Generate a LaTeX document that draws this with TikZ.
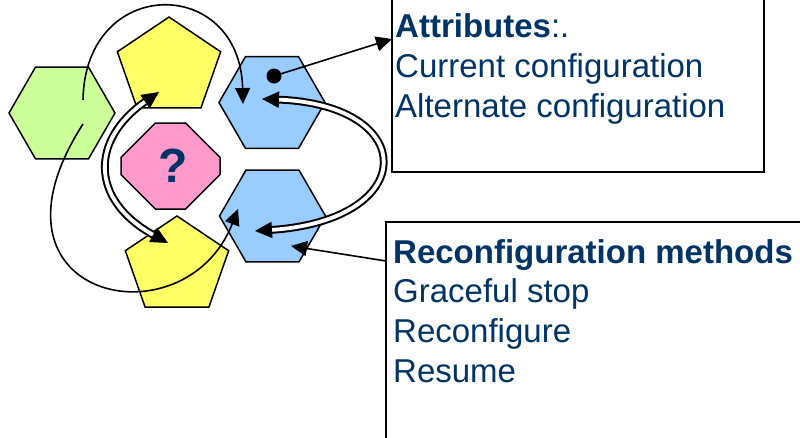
\documentclass[tikz,border=0pt]{standalone}
\usepackage{fontspec}
\setmainfont{Liberation Sans}
\usetikzlibrary{arrows.meta,shapes.geometric,shapes.misc}

\definecolor{navy}{RGB}{0,51,102}
\definecolor{leaf}{RGB}{204,255,153}
\definecolor{lemon}{RGB}{255,255,102}
\definecolor{sky}{RGB}{153,204,255}
\definecolor{rose}{RGB}{255,153,204}

\tikzset{
  shapeline/.style={draw=black, line width=1.5pt, inner sep=0pt},
  hexa/.style={shapeline, regular polygon, regular polygon sides=6,
    minimum size=106pt, fill=#1},
  penta/.style={shapeline, regular polygon, regular polygon sides=5,
    minimum size=100.6pt, fill=lemon, xscale=1.08},
  infobox/.style={draw=black, line width=1.8pt, fill=white, inner sep=0pt},
  txt/.style={inner sep=0pt, anchor=base west, text=navy,
    font=\fontsize{33}{40}\selectfont},
  thin/.style={line width=1.6pt, -{Triangle[length=16pt,width=15pt]}},
  twin/.style={line width=2pt, double=white, double distance=3.8pt,
    {Triangle[length=17pt,width=16pt]}-{Triangle[length=17pt,width=16pt]}},
}

\begin{document}
\begin{tikzpicture}[x=1pt,y=-1pt]
\useasboundingbox (0,0) rectangle (800,437);

% text boxes
\node[infobox, minimum width=372pt, minimum height=200pt] (attrbox) at (578,72) {};
\node[infobox, minimum width=440pt, minimum height=240pt] (methbox) at (606,342) {};

\node[txt] (attrA) at (395,37) {\textbf{Attributes}:.};
\node[txt] (attrB) at (395,77) {Current configuration};
\node[txt] (attrC) at (395,117) {Alternate configuration};

\node[txt] (methA) at (393,263) {\textbf{Reconfiguration methods}};
\node[txt] (methB) at (393,302) {Graceful stop};
\node[txt] (methC) at (393,342) {Reconfigure};
\node[txt] (methD) at (393,382) {Resume};

% components
\node[hexa=leaf] (green) at (62,113) {};
\node[penta] (ptop) at (169,67.3) {};
\node[penta] (pbot) at (177,266.3) {};
\node[hexa=sky] (btop) at (272,102.5) {};
\node[hexa=sky] (bbot) at (272.5,216) {};
\node[shapeline, chamfered rectangle, fill=rose,
  chamfered rectangle xsep=24pt, chamfered rectangle ysep=22pt,
  minimum width=99pt, minimum height=86pt,
  font=\fontsize{48}{48}\selectfont\bfseries, text=navy] (oct) at (170.5,166)
  {\kern6pt\raisebox{-2pt}{?}};

\node[circle, fill=black, inner sep=0pt, minimum size=15pt] (dot) at (274,76) {};

% connector end points
\coordinate (g1) at (83,100);
\coordinate (g2) at (83,124);
\coordinate (t1) at (243,104);
\coordinate (t2) at (238,209);
\coordinate (pt) at (159,92);
\coordinate (pb) at (168,243);
\coordinate (bt) at (262,99);
\coordinate (bb) at (255,231);
\coordinate (attrtip) at (392,39);
\coordinate (methfrom) at (386,261);
\coordinate (methtip) at (291,246);

% thin curved arrows from the green component
\draw[thin] (g1) .. controls (85,-25) and (240,-25) .. (t1);
\draw[thin] (g2) .. controls (-30,300) and (185,345) .. (t2);

% double arrows
\draw[twin] (pt) .. controls (90,140) and (90,200) .. (pb);
\draw[twin] (bt) .. controls (420,105) and (420,220) .. (bb);

% pointers to the text boxes
\draw[thin] (dot.center) -- (attrtip);
\draw[thin] (methfrom) -- (methtip);
\end{tikzpicture}
\end{document}
